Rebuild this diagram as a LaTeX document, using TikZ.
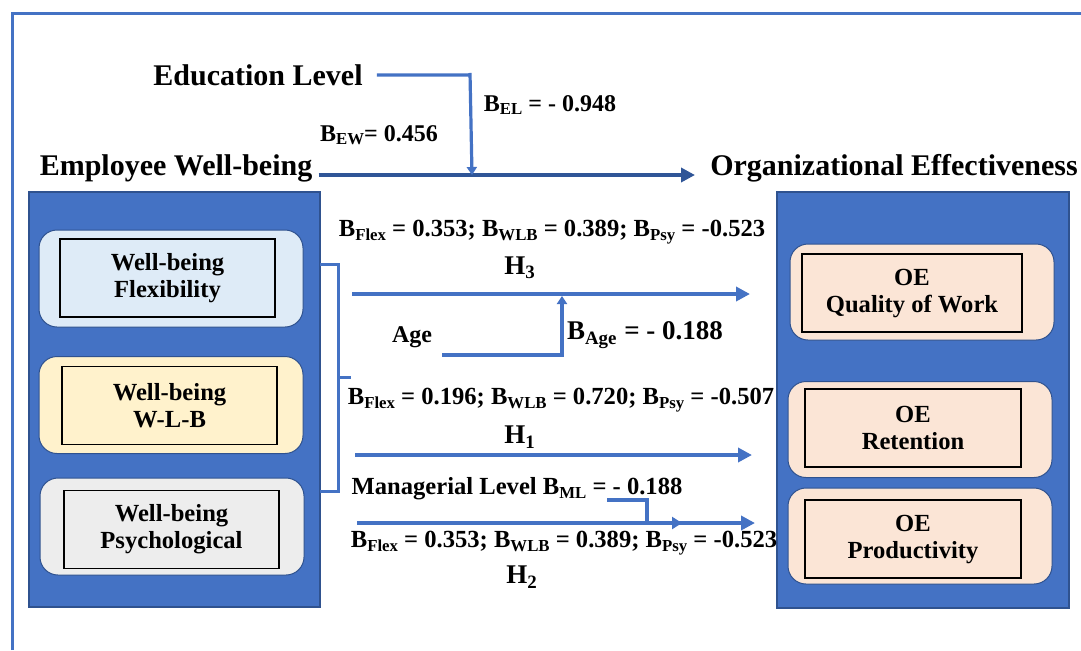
\documentclass[tikz,border=0pt]{standalone}
\usepackage{fontspec}
\setmainfont{Liberation Serif}[BoldFont={Liberation Serif Bold}]
\usetikzlibrary{arrows.meta}
\definecolor{frameblue}{HTML}{4472C4}
\definecolor{darkblue}{HTML}{2F5597}
\definecolor{panelline}{HTML}{2F528F}
\definecolor{flexfill}{HTML}{DEEBF7}
\definecolor{wlbfill}{HTML}{FFF2CC}
\definecolor{psyfill}{HTML}{EDEDED}
\definecolor{oefill}{HTML}{FBE5D6}
\newcommand{\sbx}[1]{\raisebox{-0.3ex}{\fontsize{8.4}{8.4}\selectfont #1}}
\begin{document}
\begin{tikzpicture}[x=0.5pt, y=-0.5pt, font=\rmfamily\bfseries,
    panel/.style={draw=panelline, fill=frameblue, line width=0.6pt, inner sep=0pt, minimum width=145.5pt, minimum height=207.5pt},
    pill/.style={draw=panelline, rounded corners=9pt, line width=0.5pt, inner sep=0pt, minimum width=132pt, minimum height=48.5pt},
    inbox/.style={draw=black, line width=0.6pt, inner sep=0pt, align=center, minimum height=39pt, font=\rmfamily\bfseries\fontsize{12.3}{13.5}\selectfont},
    head/.style={font=\rmfamily\bfseries\fontsize{15}{18}\selectfont, inner sep=0pt},
    coef/.style={font=\rmfamily\bfseries\fontsize{12.3}{14}\selectfont, inner sep=0pt},
    hyp/.style={font=\rmfamily\bfseries\fontsize{13.5}{16}\selectfont, inner sep=0pt},
    link/.style={frameblue, line width=2pt, -{Triangle[length=7pt,width=7pt]}}]
\useasboundingbox (0,0) rectangle (1081,650);
\draw [frameblue, line width=1.5pt] (12,650) -- (12,13) -- (1081,13);

\node [panel] (wbpanel) at (174.5,399.5) {};
\node [panel, minimum width=146pt, minimum height=208pt] (oepanel) at (923,400) {};

\node [pill, fill=flexfill] (flexpill) at (171,278.5) {};
\node [pill, fill=wlbfill] (wlbpill) at (171,405) {};
\node [pill, fill=psyfill] (psypill) at (172,526.5) {};
\node [inbox, fill=flexfill, minimum width=107.5pt] (flex) at (167.5,278) {Well-being\\Flexibility};
\node [inbox, fill=wlbfill, minimum width=107.5pt] (wlb) at (169.5,405.5) {Well-being\\W-L-B};
\node [inbox, fill=psyfill, minimum width=107.5pt] (psy) at (171.5,529.5) {Well-being\\Psychological};

\node [pill, fill=oefill, minimum height=48pt] (qowpill) at (922,292) {};
\node [pill, fill=oefill, minimum height=48pt] (retpill) at (920,429.5) {};
\node [pill, fill=oefill, minimum height=48pt] (prodpill) at (920,536) {};
\node [inbox, fill=oefill, minimum width=110pt] (qow) at (912,293) {OE\\Quality of Work};
\node [inbox, fill=oefill, minimum width=108pt] (ret) at (913,428) {OE\\Retention};
\node [inbox, fill=oefill, minimum width=108pt] (prod) at (913,539) {OE\\Productivity};

\node [head] (edu) at (258,75) {Education Level};
\node [head] (ewb) at (176,168) {Employee Well-being};
\node [head] (oe) at (894,168) {Organizational Effectiveness};
\node [coef, font=\rmfamily\bfseries\fontsize{12}{14}\selectfont] (bew) at (379,135) {B\sbx{EW}= 0.456};
\node [coef, font=\rmfamily\bfseries\fontsize{12}{14}\selectfont] (bel) at (550,105) {B\sbx{EL} = - 0.948};

\coordinate (eduturn) at (470,73);
\coordinate (edujoin) at (472,175);
\coordinate (ewbend) at (695,175);
\draw [darkblue, line width=2.4pt, -{Triangle[length=7pt,width=7pt]}] (ewb.east |- edujoin) ++(6,0) -- (ewbend);
\draw [frameblue, line width=1.6pt, -{Triangle[length=4pt,width=5pt]}] (edu.east) ++(14,0) -| (eduturn) -- (edujoin);

\draw [frameblue, line width=1.5pt] (320,264) -- (338,264) -- (338,491) -- (320,491);
\draw [frameblue, line width=1.5pt] (338,377) -- (351,377);

\node [coef] (c3) at (552,232) {B\sbx{Flex} = 0.353; B\sbx{WLB} = 0.389; B\sbx{Psy} = -0.523};
\node [hyp] (h3) at (520,268) {H\textsubscript{3}};
\coordinate (h3from) at (352,294);
\coordinate (h3to) at (750,294);
\draw [link] (h3from) -- (h3to);

\node [coef, font=\rmfamily\bfseries\fontsize{12}{14}\selectfont] (age) at (412,337) {Age};
\node [hyp] (bage) at (645,335) {B\textsubscript{Age} = - 0.188};
\coordinate (agefrom) at (442,355);
\coordinate (ageto) at (562,296);
\draw [frameblue, line width=1.6pt, -{Triangle[length=4pt,width=5pt]}] (agefrom) -| (ageto);

\node [coef] (c1) at (561,400) {B\sbx{Flex} = 0.196; B\sbx{WLB} = 0.720; B\sbx{Psy} = -0.507};
\node [hyp] (h1) at (520,437) {H\textsubscript{1}};
\coordinate (h1from) at (355,455);
\coordinate (h1to) at (752,455);
\draw [link] (h1from) -- (h1to);

\node [coef] (ml) at (517,489) {Managerial Level B\sbx{ML} = - 0.188};
\coordinate (mlfrom) at (607,500);
\coordinate (mlturn) at (647,523);
\coordinate (mlto) at (682,523);
\draw [frameblue, line width=1.6pt, -{Triangle[length=5pt,width=6pt]}] (mlfrom) -| (mlturn) -- (mlto);

\coordinate (h2from) at (357,523);
\coordinate (h2to) at (755,523);
\draw [link] (h2from) -- (h2to);
\node [coef] (c2) at (564,543) {B\sbx{Flex} = 0.353; B\sbx{WLB} = 0.389; B\sbx{Psy} = -0.523};
\node [hyp] (h2) at (522,577) {H\textsubscript{2}};
\end{tikzpicture}
\end{document}
